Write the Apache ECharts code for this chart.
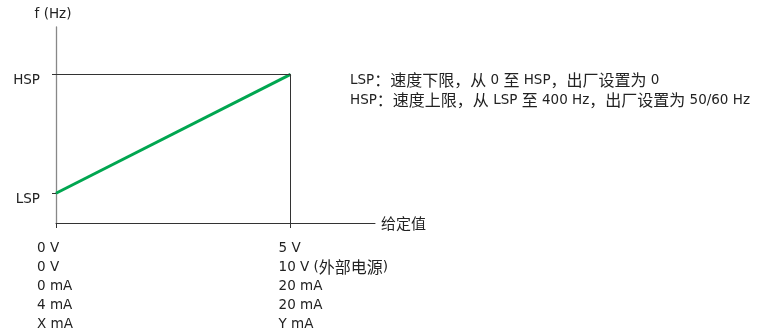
<!DOCTYPE html>
<html>
<head>
<meta charset="utf-8">
<script src="https://cdn.jsdelivr.net/npm/echarts@6/dist/echarts.min.js"></script>
<style>html,body{margin:0;padding:0;background:#fff}#c{width:761px;height:331px}</style>
</head>
<body>
<div id="c"></div>
<script>
// Data
var xTickValues = [0, 5];
var xTickLabels = [
  ['0 V', '0 V', '0 mA', '4 mA', 'X mA'],
  ['5 V', '10 V (外部电源)', '20 mA', '20 mA', 'Y mA']
];
var yTickValues = [1, 5];
var yTickLabels = ['LSP', 'HSP'];
var lineX = [0, 5];
var lineY = [1, 5];
var yAxisName = 'f (Hz)';
var xAxisName = '给定值';
var notes = [
  'LSP：速度下限，从 0 至 HSP，出厂设置为 0',
  'HSP：速度上限，从 LSP 至 400 Hz，出厂设置为 50/60 Hz'
];

var LATIN = '"DejaVu Sans", sans-serif';
var CJK = '"Noto Sans CJK SC", sans-serif';
var TXT = '#222';
var LS = 13.5, CS = 16;

// split a line into latin / CJK runs, wrapped as rich tokens
function richLine(s, padFirst) {
  var re = /[\u3000-\u9fff\uff00-\uffef]+|[^\u3000-\u9fff\uff00-\uffef]+/g;
  var m, out = '', first = true;
  while ((m = re.exec(s)) !== null) {
    var isC = /[\u3000-\u9fff\uff00-\uffef]/.test(m[0]);
    var key = (isC ? 'c' : 'l') + (first && padFirst ? 'p' : '');
    out += '{' + key + '|' + m[0] + '}';
    first = false;
  }
  return out;
}
function richStyles(lh) {
  return {
    l: {fontFamily: LATIN, fontSize: LS, color: TXT, lineHeight: lh},
    c: {fontFamily: CJK, fontSize: CS, color: TXT, lineHeight: lh},
    lp: {fontFamily: LATIN, fontSize: LS, color: TXT, lineHeight: lh, padding: [0, 0, 0, 7]},
    cp: {fontFamily: CJK, fontSize: CS, color: TXT, lineHeight: lh, padding: [0, 0, 0, 7]}
  };
}

var chart = echarts.init(document.getElementById('c'), null, {renderer: 'canvas'});
var lineData = lineX.map(function (x, i) { return [x, lineY[i]]; });

chart.setOption({
  animation: false,
  textStyle: {fontFamily: LATIN},
  grid: {left: 56, right: 386, top: 27, bottom: 108, containLabel: false, outerBoundsMode: 'none'},
  xAxis: {
    type: 'value', min: 0, max: 6.8,
    name: xAxisName, nameLocation: 'end', nameGap: 6,
    nameTextStyle: {color: TXT, fontSize: 15, fontFamily: CJK, padding: [6, 0, 0, 0]},
    axisLine: {onZero: true, lineStyle: {color: '#333', width: 1}},
    axisTick: {show: true, customValues: xTickValues, length: 5, lineStyle: {color: '#333'}},
    splitLine: {show: false},
    axisLabel: {
      customValues: xTickValues,
      margin: 15.5,
      align: 'left',
      verticalAlign: 'top',
      color: TXT, fontSize: LS, lineHeight: 19, fontFamily: LATIN,
      padding: [0, 0, 0, -19],
      formatter: function (v) {
        var i = xTickValues.indexOf(v);
        if (i < 0) return '';
        return xTickLabels[i].map(function (s) { return richLine(s, i === 1); }).join('\n');
      },
      rich: richStyles(19)
    }
  },
  yAxis: {
    type: 'value', min: 0, max: 6.59,
    name: yAxisName, nameLocation: 'end', nameGap: 6,
    nameTextStyle: {color: TXT, fontSize: LS, fontFamily: LATIN, align: 'center', padding: [0, 6, 0, 0]},
    axisLine: {onZero: false, lineStyle: {color: '#888', width: 1.3}},
    axisTick: {show: true, customValues: yTickValues, length: 4, lineStyle: {color: '#333'}},
    splitLine: {show: false},
    axisLabel: {
      customValues: yTickValues,
      margin: 16,
      verticalAlign: 'top',
      lineHeight: 14,
      padding: [-1, 0, 0, 0],
      color: TXT, fontSize: LS, fontFamily: LATIN,
      formatter: function (v) {
        var i = yTickValues.indexOf(v);
        return i < 0 ? '' : yTickLabels[i];
      }
    }
  },
  series: [{
    type: 'line',
    data: lineData,
    symbol: 'none',
    lineStyle: {color: '#00a650', width: 3},
    markLine: {
      silent: true,
      symbol: 'none',
      label: {show: false},
      lineStyle: {color: '#333', width: 1, type: 'solid'},
      data: [
        [{coord: [lineX[0], lineY[1]]}, {coord: [lineX[1], lineY[1]]}],
        [{coord: [lineX[1], 0]}, {coord: [lineX[1], lineY[1]]}]
      ]
    }
  }],
  graphic: [{
    type: 'text', left: 350, top: 70,
    style: {
      text: notes.map(function (s) { return richLine(s, false); }).join('\n'),
      fill: TXT, fontSize: LS, lineHeight: 20, fontFamily: LATIN,
      rich: richStyles(20)
    }
  }]
});
</script>
</body>
</html>
